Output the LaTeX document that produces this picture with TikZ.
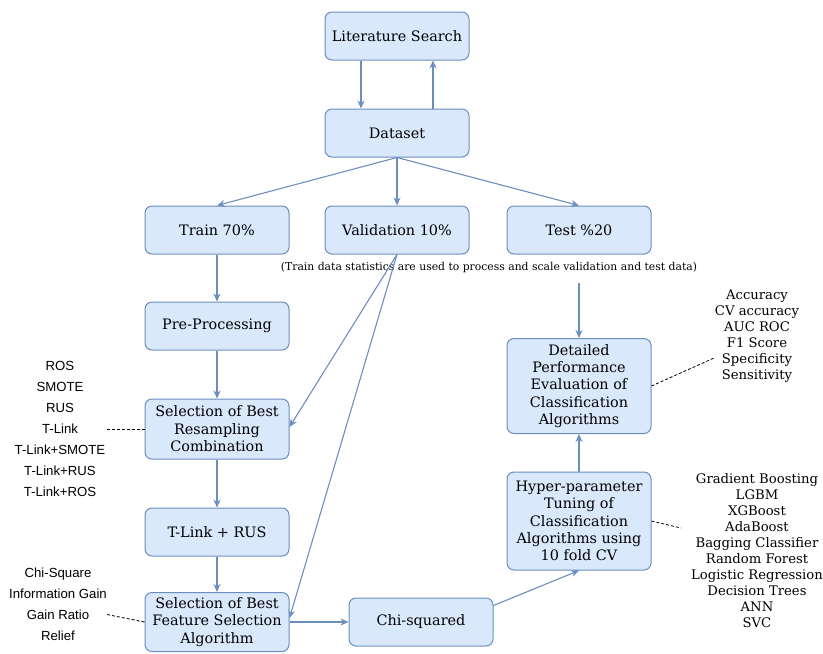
\documentclass[tikz,border=0pt]{standalone}
\usepackage{fontspec}
\setmainfont{DejaVu Serif}
\newfontfamily\listfont{Liberation Sans}
\usetikzlibrary{arrows.meta}
\definecolor{boxfill}{HTML}{DAE8FC}
\definecolor{boxline}{HTML}{6C8EBF}

\begin{document}
\begin{tikzpicture}[x=1pt, y=-1pt,
    stage/.style={draw=boxline, fill=boxfill, line width=1pt, rounded corners=7pt,
      minimum width=144pt, minimum height=48pt, align=center, inner sep=1pt,
      font=\fontsize{14.4}{17.4}\selectfont},
    flow/.style={draw=boxline, line width=1.1pt, -{Stealth[length=8pt,width=7pt]}},
    hint/.style={line width=0.8pt, dash pattern=on 3pt off 2pt},
    sanslist/.style={align=center, inner sep=0pt, font=\listfont\fontsize{13.2}{21}\selectfont},
    seriflist/.style={align=center, inner sep=0pt, font=\fontsize{13.2}{16}\selectfont}]
  \useasboundingbox (0,0) rectangle (823,654);

  % stages
  \node[stage] (lit) at (397,36) {Literature Search};
  \node[stage] (data) at (397,133) {Dataset};
  \node[stage] (train) at (217,230) {Train 70\%};
  \node[stage] (valid) at (397,230) {Validation 10\%};
  \node[stage] (test) at (579,230) {Test \%20};
  \node[font=\fontsize{10.8}{12}\selectfont] (note) at (489,268)
    {(Train data statistics are used to process and scale validation and test data)};
  \node[stage] (prep) at (217,326) {Pre-Processing};
  \node[stage, minimum height=60pt] (resamp) at (217,429) {Selection of Best\\Resampling\\Combination};
  \node[stage] (tlink) at (217,532) {T-Link + RUS};
  \node[stage, minimum height=59pt] (feat) at (217,622) {Selection of Best\\Feature Selection\\Algorithm};
  \node[stage] (chi) at (421,622) {Chi-squared};
  \node[stage, minimum height=98pt] (tune) at (579,521)
    {Hyper-parameter\\Tuning of\\Classification\\Algorithms using\\10 fold CV};
  \node[stage, minimum height=95pt] (eval) at (579,386)
    {Detailed\\Performance\\Evaluation of\\Classification\\Algorithms};

  % side lists
  \node[sanslist] (resamplist) at (60,429)
    {ROS\\SMOTE\\RUS\\T-Link\\T-Link+SMOTE\\T-Link+RUS\\T-Link+ROS};
  \node[sanslist] (featlist) at (58,604.5)
    {Chi-Square\\Information Gain\\Gain Ratio\\Relief};
  \node[seriflist] (metrics) at (757,336.5)
    {Accuracy\\CV accuracy\\AUC ROC\\F1 Score\\Specificity\\Sensitivity};
  \node[seriflist] (models) at (757,551)
    {Gradient Boosting\\LGBM\\XGBoost\\AdaBoost\\Bagging Classifier\\Random Forest\\Logistic Regression\\Decision Trees\\ANN\\SVC};

  \coordinate (notebelow) at (579,283);
  \coordinate (metricstip) at (714,358);
  \coordinate (modeltip) at (681,528);

  % flow
  \draw[flow] ([xshift=-36pt]lit.south) -- ([xshift=-36pt]data.north);
  \draw[flow] ([xshift=36pt]data.north) -- ([xshift=36pt]lit.south);
  \draw[flow] (data.south) -- (train.north);
  \draw[flow] (data.south) -- (valid.north);
  \draw[flow] (data.south) -- (test.north);
  \draw[flow] (train) -- (prep);
  \draw[flow] (prep) -- (resamp);
  \draw[flow] (resamp) -- (tlink);
  \draw[flow] (tlink) -- (feat);
  \draw[flow] (valid.south) -- ([yshift=2pt]resamp.east);
  \draw[flow] (valid.south) -- ([yshift=4pt]feat.east);
  \draw[flow] (notebelow) -- (eval.north);
  \draw[flow] (feat) -- (chi);
  \draw[flow] ([yshift=-8pt]chi.north east) -- (tune.south);
  \draw[flow] (tune) -- (eval);

  % dashed hints
  \draw[hint] (resamp.west) -- (resamp.west -| resamplist.east);
  \draw[hint] (feat.west) -- ([yshift=-10pt]featlist.east);
  \draw[hint] (eval.east) -- (metricstip);
  \draw[hint] (tune.east) -- (modeltip);
\end{tikzpicture}
\end{document}
